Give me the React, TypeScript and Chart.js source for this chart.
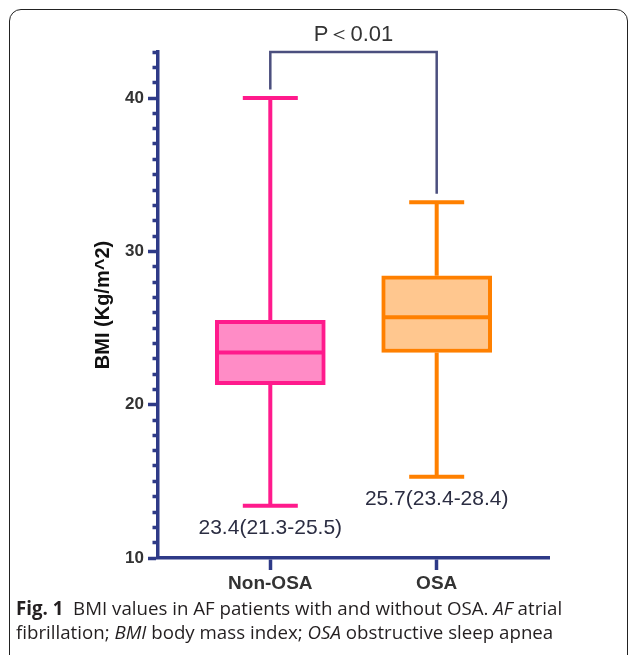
import React, { useEffect, useRef } from "react";
import { Chart, registerables } from "chart.js";

Chart.register(...registerables);

const categories = ["Non-OSA", "OSA"];
const mins = [13.4, 15.3];
const q1s = [21.3, 23.4];
const medians = [23.4, 25.7];
const q3s = [25.5, 28.4];
const maxs = [40, 33.2];
const summaryLabels = ["23.4(21.3-25.5)", "25.7(23.4-28.4)"];
const yMajorTicks = [10, 20, 30, 40];
const pLabel = "P＜0.01";

const strokeColors = ["#FF1A8C", "#FF8000"];
const fillColors = ["#FF8CC6", "#FFC78F"];
const axisColor = "#2E3A87";
const bracketColor = "#4B4F7E";

const boxPlugin = {
  id: "boxExtras",
  beforeDatasetsDraw(chart: any) {
    const { ctx, scales } = chart;
    const xs = scales.x;
    const ys = scales.y;
    ctx.save();
    ctx.lineCap = "butt";
    categories.forEach((_, i) => {
      const x = xs.getPixelForValue(i);
      ctx.strokeStyle = strokeColors[i];
      ctx.lineWidth = 4;
      ctx.beginPath();
      ctx.moveTo(x, ys.getPixelForValue(q3s[i]));
      ctx.lineTo(x, ys.getPixelForValue(maxs[i]));
      ctx.moveTo(x, ys.getPixelForValue(q1s[i]));
      ctx.lineTo(x, ys.getPixelForValue(mins[i]));
      ctx.stroke();
      const half = 27.5;
      ctx.beginPath();
      ctx.moveTo(x - half, ys.getPixelForValue(maxs[i]));
      ctx.lineTo(x + half, ys.getPixelForValue(maxs[i]));
      ctx.moveTo(x - half, ys.getPixelForValue(mins[i]));
      ctx.lineTo(x + half, ys.getPixelForValue(mins[i]));
      ctx.stroke();
    });
    ctx.restore();
  },
  afterDatasetsDraw(chart: any) {
    const { ctx, scales, chartArea } = chart;
    const xs = scales.x;
    const ys = scales.y;
    ctx.save();
    categories.forEach((_, i) => {
      const x = xs.getPixelForValue(i);
      ctx.strokeStyle = strokeColors[i];
      ctx.lineWidth = 4;
      ctx.beginPath();
      ctx.moveTo(x - 53, ys.getPixelForValue(medians[i]));
      ctx.lineTo(x + 53, ys.getPixelForValue(medians[i]));
      ctx.stroke();
      ctx.fillStyle = "#2B2D42";
      ctx.font = "21px 'Liberation Sans', Arial, sans-serif";
      ctx.textAlign = "center";
      ctx.textBaseline = "middle";
      ctx.fillText(summaryLabels[i], x, ys.getPixelForValue(mins[i]) + 22);
    });
    // significance bracket
    const x0 = xs.getPixelForValue(0);
    const x1 = xs.getPixelForValue(1);
    const top = chartArea.top;
    ctx.strokeStyle = bracketColor;
    ctx.lineWidth = 2.5;
    ctx.beginPath();
    ctx.moveTo(x0, ys.getPixelForValue(maxs[0] + 0.55));
    ctx.lineTo(x0, top);
    ctx.lineTo(x1, top);
    ctx.lineTo(x1, ys.getPixelForValue(maxs[1] + 0.55));
    ctx.stroke();
    ctx.fillStyle = "#333333";
    ctx.font = "22px 'Liberation Sans', Arial, sans-serif";
    ctx.textAlign = "center";
    ctx.textBaseline = "middle";
    ctx.fillText(pLabel, (x0 + x1) / 2, top - 17);
    ctx.restore();
  },
};

export default function App() {
  const canvasRef = useRef<HTMLCanvasElement | null>(null);

  useEffect(() => {
    if (!canvasRef.current) return;
    const chart = new Chart(canvasRef.current, {
      type: "bar",
      data: {
        datasets: [
          {
            data: categories.map((_, i) => ({ x: i, y: [q1s[i], q3s[i]] })) as any,
            backgroundColor: fillColors,
            borderColor: strokeColors,
            borderWidth: 4,
            borderSkipped: false,
            barThickness: 110,
          },
        ],
      },
      options: {
        responsive: false,
        animation: false,
        layout: { padding: { left: 80, right: 81, top: 52, bottom: 0 } },
        plugins: {
          legend: { display: false },
          tooltip: { enabled: false },
        },
        scales: {
          x: {
            type: "linear",
            min: -0.675,
            max: 1.675,
            offset: false,
            afterBuildTicks: (scale: any) => {
              scale.ticks = categories.map((_, i) => ({ value: i }));
            },
            afterFit: (scale: any) => {
              scale.height = 97;
            },
            border: { display: true, color: axisColor, width: 3.5 },
            grid: {
              offset: false,
              drawOnChartArea: false,
              tickLength: 12,
              tickWidth: 3.5,
              tickColor: axisColor,
            },
            ticks: {
              padding: 2,
              color: "#333333",
              font: { family: "'Liberation Sans', Arial, sans-serif", size: 19, weight: "bold" },
              callback: (v: any) => categories[Math.round(Number(v))] ?? "",
            },
          },
          y: {
            type: "linear",
            min: 10,
            max: 43,
            afterFit: (scale: any) => {
              scale.width = 78;
            },
            border: { display: true, color: axisColor, width: 3.5 },
            grid: {
              drawOnChartArea: false,
              tickLength: 10,
              tickWidth: 3.5,
              tickColor: axisColor,
              tickBorderDash: (c: any) => (yMajorTicks.includes(c.tick?.value) ? [] : [0, 4.5, 10, 50]),
            } as any,
            ticks: {
              stepSize: 1,
              autoSkip: false,
              padding: 4,
              color: "#333333",
              font: { family: "'Liberation Sans', Arial, sans-serif", size: 17, weight: "bold" },
              callback: (v: any) => (yMajorTicks.includes(Number(v)) ? String(v) : ""),
            },
            title: {
              display: true,
              text: "BMI (Kg/m^2)",
              color: "#111111",
              padding: { top: 11, bottom: 0 },
              font: { family: "'Liberation Sans', Arial, sans-serif", size: 20, weight: "bold" },
            },
          },
        },
      },
      plugins: [boxPlugin],
    });
    return () => chart.destroy();
  }, []);

  return (
    <div style={{ position: "absolute", left: 0, top: 0, width: 630, height: 655, overflow: "hidden", background: "#fff" }}>
      <div
        style={{
          position: "absolute",
          left: 9,
          top: 9,
          width: 619,
          height: 660,
          border: "1.5px solid #222",
          borderRadius: 12,
          boxSizing: "border-box",
        }}
      />
      <canvas ref={canvasRef} width={630} height={655} style={{ position: "absolute", left: 0, top: 0 }} />
      <div
        style={{
          position: "absolute",
          left: 16,
          top: 596,
          width: 610,
          fontFamily: "'Open Sans', sans-serif",
          fontSize: 18.7,
          lineHeight: "24px",
          color: "#231F20",
          whiteSpace: "nowrap",
        }}
      >
        <b>Fig. 1</b>&nbsp; BMI values in AF patients with and without OSA. <i>AF</i> atrial
        <br />
        fibrillation; <i>BMI</i> body mass index; <i>OSA</i> obstructive sleep apnea
      </div>
    </div>
  );
}
